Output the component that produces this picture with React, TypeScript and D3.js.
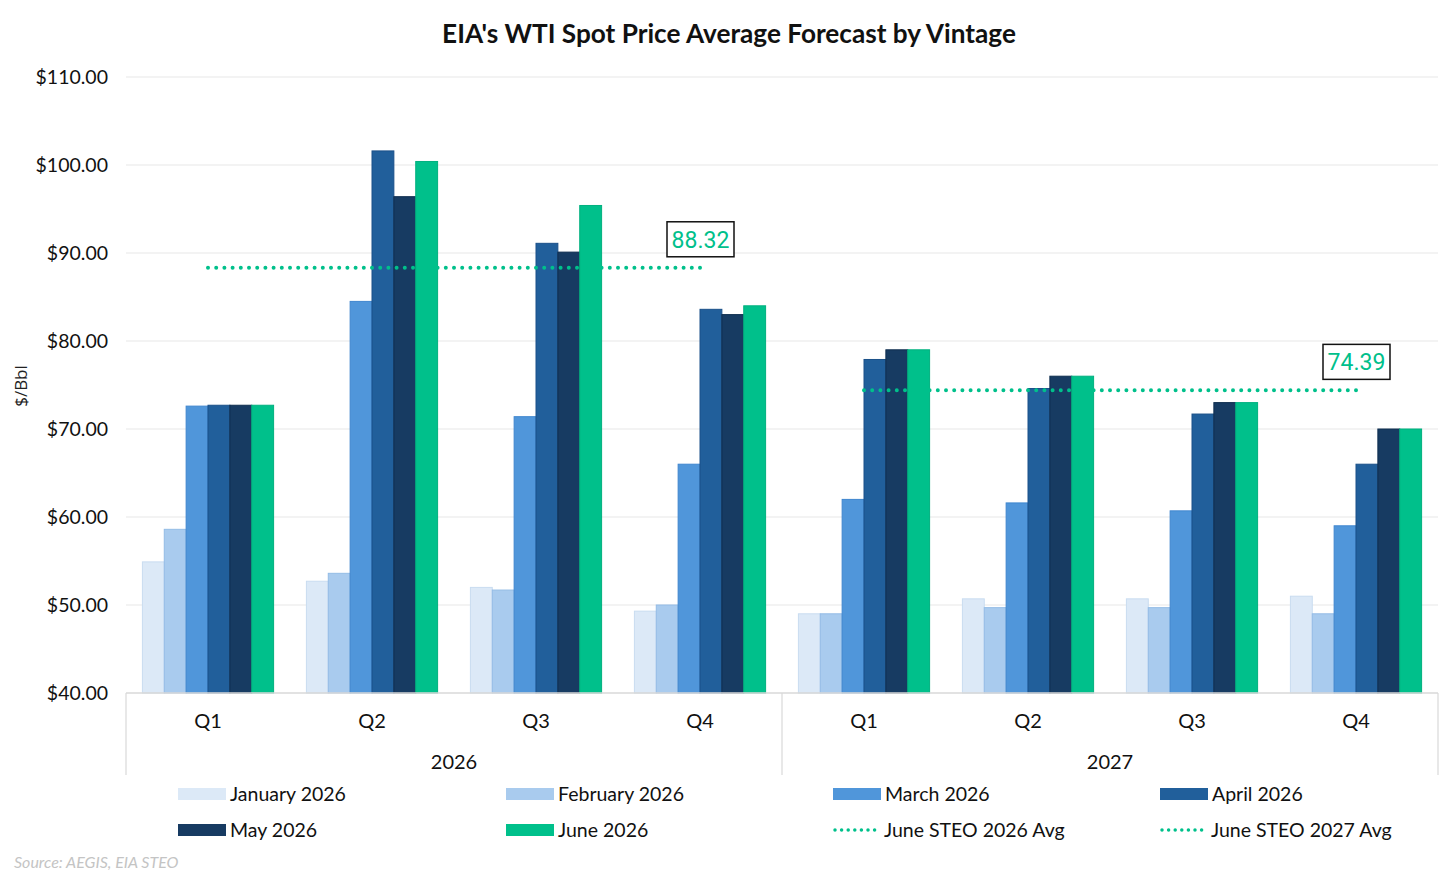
import React from 'react';
import * as d3 from 'd3';

// quarter categories, grouped by year
const quarters = ['Q1', 'Q2', 'Q3', 'Q4', 'Q1', 'Q2', 'Q3', 'Q4'];
const years = ['2026', '2027'];

// forecast vintages (one bar per vintage per quarter)
const vintages = ['January 2026', 'February 2026', 'March 2026', 'April 2026', 'May 2026', 'June 2026'];
const vintageColors = ['#dce9f7', '#a9cbee', '#5096da', '#215f9b', '#173b62', '#00c08b'];
const vintageStrokes = ['#c9dcf0', '#94bce6', '#3f86cf', '#1a5089', '#0f2e4f', '#00b07f'];

const jan2026 = [54.9, 52.7, 52.0, 49.3, 49.0, 50.7, 50.7, 51.0];
const feb2026 = [58.6, 53.6, 51.7, 50.0, 49.0, 49.7, 49.7, 49.0];
const mar2026 = [72.6, 84.5, 71.4, 66.0, 62.0, 61.6, 60.7, 59.0];
const apr2026 = [72.7, 101.6, 91.1, 83.6, 77.9, 74.6, 71.7, 66.0];
const may2026 = [72.7, 96.4, 90.1, 83.0, 79.0, 76.0, 73.0, 70.0];
const jun2026 = [72.7, 100.4, 95.4, 84.0, 79.0, 76.0, 73.0, 70.0];
const seriesValues = [jan2026, feb2026, mar2026, apr2026, may2026, jun2026];

// June STEO annual averages
const avgLabels = ['June STEO 2026 Avg', 'June STEO 2027 Avg'];
const avgValues = [88.32, 74.39];

const yTicks = [40, 50, 60, 70, 80, 90, 100, 110];

const W = 1456;
const H = 874;
const left = 126;
const right = 1438;
const top = 77;
const bottom = 693;
const GREEN = '#00c08b';
const FONT = 'Lato, "Open Sans", sans-serif';

export default function App() {
  const idx = quarters.map((_, i) => String(i));
  const x = d3.scaleBand<string>().domain(idx).range([left, right]).paddingInner(0.2).paddingOuter(0.1);
  const xStep = x.step();
  const inner = d3.scaleBand<string>().domain(vintages).range([0, x.bandwidth()]);
  const y = d3.scaleLinear().domain([40, 110]).range([bottom, top]);
  const yearX = d3.scaleBand<string>().domain(years).range([left, right]);
  const xc = (i: number) => (x(String(i)) as number) + x.bandwidth() / 2;

  const legendItems = [
    ...vintages.map((v, i) => ({ label: v, color: vintageColors[i], dotted: false })),
    ...avgLabels.map((v) => ({ label: v, color: GREEN, dotted: true })),
  ];
  const legendCols = [178, 506, 833, 1160];
  const legendRows = [794, 830];

  return (
    <svg
      width={W}
      height={H}
      style={{ position: 'fixed', top: 0, left: 0, background: '#fff' }}
      fontFamily={FONT}
    >
      <text x={W / 2 + 1} y={43} textAnchor="middle" fontSize={26.2} fontWeight={700} fill="#111">
        EIA's WTI Spot Price Average Forecast by Vintage
      </text>

      {/* grid + y labels */}
      {yTicks.map((t) => (
        <g key={t}>
          {t > 40 && <line x1={left} x2={right} y1={y(t)} y2={y(t)} stroke="#efefef" strokeWidth={1.5} />}
          <text x={108} y={y(t)} dy="0.35em" textAnchor="end" fontSize={19.5} fill="#111">
            {`$${t.toFixed(2)}`}
          </text>
        </g>
      ))}

      <text
        transform={`translate(27,${(top + bottom) / 2 + 1}) rotate(-90)`}
        textAnchor="middle"
        fontSize={17}
        fontFamily='"Open Sans", "DejaVu Sans", sans-serif'
        fill="#222"
      >
        $/Bbl
      </text>

      {/* bars */}
      {seriesValues.map((vals, s) => (
        <g key={vintages[s]}>
          {vals.map((v, i) => (
            <rect
              key={i}
              x={(x(String(i)) as number) + (inner(vintages[s]) as number)}
              y={y(v)}
              width={inner.bandwidth()}
              height={y(40) - y(v)}
              fill={vintageColors[s]}
              stroke={vintageStrokes[s]}
              strokeWidth={1}
            />
          ))}
        </g>
      ))}

      {/* category axis */}
      <line x1={left} x2={right} y1={bottom} y2={bottom} stroke="#d9d9d9" strokeWidth={1.5} />
      {[left, left + xStep * 4, right].map((xx, i) => (
        <line key={i} x1={xx} x2={xx} y1={bottom} y2={775} stroke="#d9d9d9" strokeWidth={1.2} />
      ))}
      {quarters.map((q, i) => (
        <text key={i} x={xc(i)} y={721} dy="0.35em" textAnchor="middle" fontSize={20} fill="#111">
          {q}
        </text>
      ))}
      {years.map((yr) => (
        <text
          key={yr}
          x={(yearX(yr) as number) + yearX.bandwidth() / 2}
          y={762}
          dy="0.35em"
          textAnchor="middle"
          fontSize={20}
          fill="#111"
        >
          {yr}
        </text>
      ))}

      {/* June STEO averages */}
      {avgValues.map((v, k) => {
        const pts = [k * 4, k * 4 + 3];
        const d = d3.line<number>().x((i) => xc(i)).y(() => y(v))(pts);
        const lx = xc(pts[1]);
        const ly = y(v);
        return (
          <g key={avgLabels[k]}>
            <path d={d ?? ''} fill="none" stroke={GREEN} strokeWidth={4} strokeDasharray="0 8.2" strokeLinecap="round" />
            <rect x={lx - 33} y={ly - 46} width={67} height={35} fill="#fff" stroke="#111" strokeWidth={1.5} />
            <text x={lx + 0.5} y={ly - 28.5} dy="0.36em" textAnchor="middle" fontSize={23} fill={GREEN}
              fontFamily='Roboto, "Open Sans", sans-serif'>
              {v.toFixed(2)}
            </text>
          </g>
        );
      })}

      {/* legend */}
      {legendItems.map((it, i) => {
        const cx = legendCols[i % 4];
        const cy = legendRows[Math.floor(i / 4)];
        return (
          <g key={it.label}>
            {it.dotted ? (
              <line x1={cx + 2} x2={cx + 42} y1={cy} y2={cy} stroke={it.color} strokeWidth={3.5}
                strokeDasharray="0 6.6" strokeLinecap="round" />
            ) : (
              <rect x={cx} y={cy - 6} width={48} height={12} fill={it.color} />
            )}
            <text x={it.dotted ? cx + 51 : cx + 52} y={cy} dy="0.35em" fontSize={19.5} fill="#111">
              {it.label}
            </text>
          </g>
        );
      })}

      <text x={14} y={862} dy="0.35em" fontSize={16} fontStyle="italic" fill="#c4c4c4">
        Source: AEGIS, EIA STEO
      </text>
    </svg>
  );
}
